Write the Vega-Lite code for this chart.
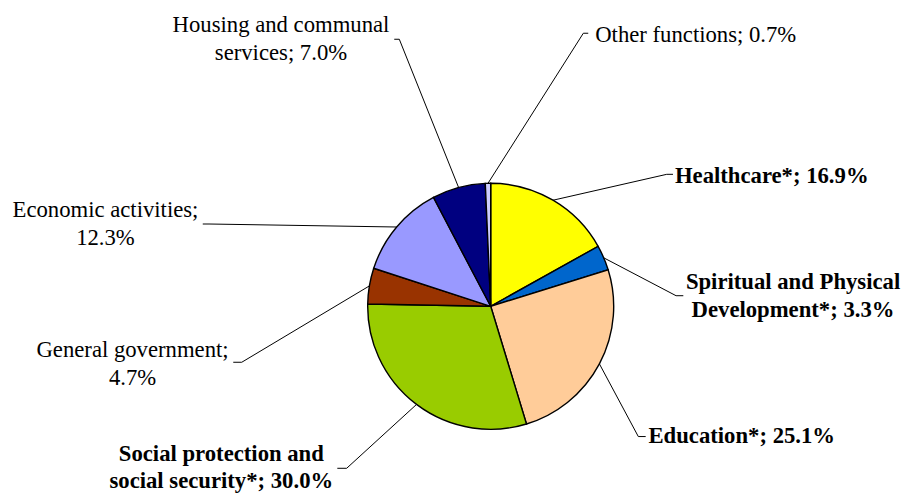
{
  "$schema": "https://vega.github.io/schema/vega-lite/v6.json",
  "width": 905,
  "height": 496,
  "padding": 0,
  "autosize": {"type": "fit", "contains": "padding"},
  "background": "white",
  "config": {"view": {"stroke": null}, "text": {"font": "Liberation Serif"}},
  "data": {
    "values": [
      {"i": 1, "category": "Healthcare", "value": 16.9, "label": "Healthcare*; 16.9%", "lx": 2.285, "ly": 1.005, "kx": 1.431, "ky": 1.073, "ex": 1.482},
      {"i": 2, "category": "Spiritual and Physical Development", "value": 3.3, "label": "Spiritual and Physical\nDevelopment*; 3.3%", "lx": 2.458, "ly": 0.138, "kx": 1.507, "ky": 0.086, "ex": 1.566},
      {"i": 3, "category": "Education", "value": 25.1, "label": "Education*; 25.1%", "lx": 2.041, "ly": -1.114, "kx": 1.2, "ky": -1.059, "ex": 1.26},
      {"i": 4, "category": "Social protection and social security", "value": 30.0, "label": "Social protection and\nsocial security*; 30.0%", "lx": -2.19, "ly": -1.258, "kx": -1.171, "ky": -1.317, "ex": -1.247},
      {"i": 5, "category": "General government", "value": 4.7, "label": "General government;\n4.7%", "lx": -2.912, "ly": -0.415, "kx": -2.024, "ky": -0.455, "ex": -2.093},
      {"i": 6, "category": "Economic activities", "value": 12.3, "label": "Economic activities;\n12.3%", "lx": -3.132, "ly": 0.724, "kx": -2.29, "ky": 0.669, "ex": -2.341},
      {"i": 7, "category": "Housing and communal services", "value": 7.0, "label": "Housing and communal\nservices; 7.0%", "lx": -1.705, "ly": 2.228, "kx": -0.743, "ky": 2.171, "ex": -0.784},
      {"i": 8, "category": "Other functions", "value": 0.7, "label": "Other functions; 0.7%", "lx": 1.667, "ly": 2.151, "kx": 0.753, "ky": 2.22, "ex": 0.793}
    ]
  },
  "transform": [
    {"joinaggregate": [{"op": "sum", "field": "value", "as": "total"}]},
    {"window": [{"op": "sum", "field": "value", "as": "cum"}], "sort": [{"field": "i"}], "frame": [null, 0]},
    {"calculate": "2*PI*(datum.cum - datum.value/2)/datum.total", "as": "ang"},
    {"calculate": "sin(datum.ang)", "as": "sx"},
    {"calculate": "cos(datum.ang)", "as": "sy"}
  ],
  "layer": [
    {
      "mark": {"type": "arc", "outerRadius": 123, "stroke": "black", "strokeWidth": 1.4},
      "encoding": {
        "theta": {"field": "value", "type": "quantitative", "stack": true},
        "order": {"field": "i", "type": "quantitative"},
        "color": {
          "field": "category",
          "type": "nominal",
          "legend": null,
          "scale": {
            "domain": ["Healthcare", "Spiritual and Physical Development", "Education", "Social protection and social security", "General government", "Economic activities", "Housing and communal services", "Other functions"],
            "range": ["#FFFF00", "#0066CC", "#FFCC99", "#99CC00", "#993300", "#9999FF", "#000080", "#CCCCFF"]
          }
        },
        "x": {"datum": 0, "type": "quantitative", "axis": null, "scale": {"domain": [-3.9894, 3.3683], "nice": false, "zero": false}},
        "y": {"datum": 0, "type": "quantitative", "axis": null, "scale": {"domain": [-1.5423, 2.4902], "nice": false, "zero": false}}
      }
    },
    {
      "mark": {"type": "rule", "color": "black", "strokeWidth": 1},
      "encoding": {
        "x": {"field": "sx", "type": "quantitative", "axis": null, "scale": {"domain": [-3.9894, 3.3683], "nice": false, "zero": false}},
        "y": {"field": "sy", "type": "quantitative", "axis": null, "scale": {"domain": [-1.5423, 2.4902], "nice": false, "zero": false}},
        "x2": {"field": "kx"},
        "y2": {"field": "ky"}
      }
    },
    {
      "mark": {"type": "rule", "color": "black", "strokeWidth": 1},
      "encoding": {
        "x": {"field": "kx", "type": "quantitative", "axis": null, "scale": {"domain": [-3.9894, 3.3683], "nice": false, "zero": false}},
        "y": {"field": "ky", "type": "quantitative", "axis": null, "scale": {"domain": [-1.5423, 2.4902], "nice": false, "zero": false}},
        "x2": {"field": "ex"},
        "y2": {"field": "ky"}
      }
    },
    {
      "transform": [{"filter": "indexof(datum.label, '*') >= 0"}],
      "mark": {"type": "text", "font": "Liberation Serif", "fontSize": 22.7, "fontWeight": "bold", "align": "center", "baseline": "alphabetic", "lineBreak": "\n", "lineHeight": 27.3, "color": "black"},
      "encoding": {
        "x": {"field": "lx", "type": "quantitative", "axis": null, "scale": {"domain": [-3.9894, 3.3683], "nice": false, "zero": false}},
        "y": {"field": "ly", "type": "quantitative", "axis": null, "scale": {"domain": [-1.5423, 2.4902], "nice": false, "zero": false}},
        "text": {"field": "label", "type": "nominal"}
      }
    },
    {
      "transform": [{"filter": "indexof(datum.label, '*') < 0"}],
      "mark": {"type": "text", "font": "Liberation Serif", "fontSize": 22.7, "align": "center", "baseline": "alphabetic", "lineBreak": "\n", "lineHeight": 27.3, "color": "black"},
      "encoding": {
        "x": {"field": "lx", "type": "quantitative", "axis": null, "scale": {"domain": [-3.9894, 3.3683], "nice": false, "zero": false}},
        "y": {"field": "ly", "type": "quantitative", "axis": null, "scale": {"domain": [-1.5423, 2.4902], "nice": false, "zero": false}},
        "text": {"field": "label", "type": "nominal"}
      }
    }
  ]
}
